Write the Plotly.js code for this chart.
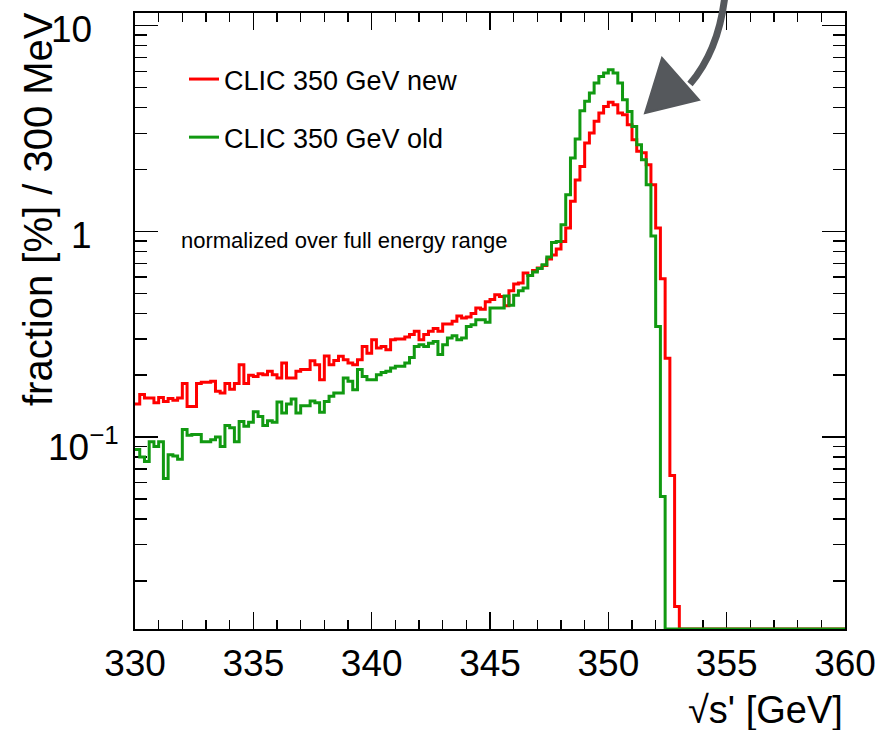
<!DOCTYPE html>
<html>
<head>
<meta charset="utf-8">
<script src="https://cdn.plot.ly/plotly-3.0.1.min.js"></script>
<style>html,body{margin:0;padding:0;background:#fff;}</style>
</head>
<body>
<div id="chart" style="width:880px;height:730px;"></div>
<script>
// Histogram definition
const binStart = 330;
const binWidth = 0.2;
const seriesNames = ["CLIC 350 GeV new", "CLIC 350 GeV old"];
const seriesColors = ["#ff0000", "#119911"];

// fraction [%] per bin, CLIC 350 GeV new
const fracNew = [
 0.145,0.161,0.155,0.155,0.147,0.156,0.149,0.154,0.151,0.155,
 0.182,0.141,0.141,0.182,0.185,0.185,0.187,0.167,0.164,0.182,
 0.171,0.182,0.225,0.182,0.200,0.197,0.203,0.201,0.209,0.201,
 0.194,0.229,0.194,0.194,0.209,0.213,0.213,0.235,0.225,0.190,
 0.248,0.225,0.236,0.247,0.238,0.229,0.225,0.238,0.276,0.256,
 0.297,0.271,0.276,0.266,0.297,0.300,0.300,0.307,0.315,0.327,
 0.297,0.315,0.327,0.337,0.327,0.355,0.355,0.366,0.388,0.379,
 0.384,0.399,0.424,0.418,0.455,0.466,0.492,0.483,0.435,0.515,
 0.555,0.561,0.627,0.610,0.645,0.664,0.683,0.735,0.768,0.822,
 0.894,1.038,1.40,1.78,2.07,2.69,3.01,3.43,3.76,4.05,
 4.24,4.13,3.76,3.69,3.30,2.79,2.45,2.41,2.11,1.687,
 1.04,0.589,0.242,0.065,0.015,0,0,0,0,0,
 0,0,0,0,0,0,0,0,0,0,
 0,0,0,0,0,0,0,0,0,0,
 0,0,0,0,0,0,0,0,0,0
];

// fraction [%] per bin, CLIC 350 GeV old
const fracOld = [
 0.087,0.080,0.076,0.095,0.090,0.095,0.063,0.082,0.081,0.078,
 0.109,0.102,0.103,0.103,0.095,0.095,0.097,0.100,0.090,0.114,
 0.111,0.095,0.119,0.113,0.118,0.133,0.126,0.114,0.120,0.118,
 0.148,0.131,0.145,0.153,0.131,0.142,0.142,0.150,0.147,0.132,
 0.149,0.158,0.164,0.164,0.194,0.187,0.170,0.213,0.197,0.190,
 0.190,0.201,0.206,0.209,0.217,0.221,0.221,0.229,0.244,0.276,
 0.281,0.276,0.286,0.292,0.252,0.281,0.303,0.311,0.297,0.303,
 0.345,0.352,0.372,0.372,0.362,0.424,0.424,0.424,0.485,0.437,
 0.490,0.515,0.531,0.610,0.635,0.660,0.689,0.751,0.884,0.894,
 1.078,1.508,2.274,2.812,3.86,4.29,4.71,5.27,5.67,5.89,
 6.11,5.89,5.27,4.37,3.83,3.24,2.64,2.23,1.687,0.95,
 0.345,0.0515,0,0,0,0,0,0,0,0,
 0,0,0,0,0,0,0,0,0,0,
 0,0,0,0,0,0,0,0,0,0,
 0,0,0,0,0,0,0,0,0,0
];

const xTickVals = [330,335,340,345,350,355,360];
const yTickVals = [0.1, 1, 10];
const yTickText = ["10<sup>\u22121</sup>", "1", "10"];
const yMinorVals = [0.02,0.03,0.04,0.05,0.06,0.07,0.08,0.09,0.2,0.3,0.4,0.5,0.6,0.7,0.8,0.9,2,3,4,5,6,7,8,9];
const yAxisMin = 0.01167, yAxisMax = 11.53;

function histTrace(vals, name, color, group) {
  const x = [], y = [];
  for (let i = 0; i < vals.length; i++) {
    x.push(binStart + i * binWidth);
    y.push(vals[i] > 0 ? vals[i] : yAxisMin);
  }
  x.push(binStart + vals.length * binWidth);
  y.push(y[y.length - 1]);
  return {x: x, y: y, type: "scatter", mode: "lines", name: name,
    legendgroup: group, line: {shape: "hv", color: color, width: 3}};
}

const traces = [
  histTrace(fracNew, seriesNames[0], seriesColors[0], "g1"),
  histTrace(fracOld, seriesNames[1], seriesColors[1], "g2")
];

const F = "Liberation Sans, Arial, Helvetica, sans-serif";
const px = v => (v - 135) / 710;
const py = v => (629 - v) / 616;

// y tick labels, ROOT style: base aligned, exponent hanging to the right
const yLabelAnn = yTickVals.map((v, i) => ({
  text: yTickText[i], xref: "paper", yref: "y",
  x: v < 1 ? px(121) : px(94), y: Math.log10(v),
  xanchor: "right", yanchor: "middle", yshift: v < 1 ? -7 : -4,
  showarrow: false, font: {size: 37, family: F, color: "#000"}
}));

const layout = {
  width: 880, height: 730,
  margin: {l: 135, r: 35, t: 13, b: 101},
  paper_bgcolor: "#fff", plot_bgcolor: "#fff",
  font: {family: F, color: "#000"},
  showlegend: true,
  legend: {x: px(184), y: py(55), xanchor: "left", yanchor: "top",
    bgcolor: "rgba(0,0,0,0)", font: {size: 27, family: F, color: "#000"},
    tracegroupgap: 20},
  xaxis: {
    range: [330, 360], tickvals: xTickVals, ticks: "inside", ticklen: 17, tickwidth: 1.5,
    tickcolor: "#000", showline: true, linewidth: 2, linecolor: "#000", mirror: "allticks",
    showgrid: false, zeroline: false, layer: "below traces",
    tickfont: {size: 37, family: F, color: "#000"}, ticklabelstandoff: 1,
    minor: {dtick: 1, ticks: "inside", ticklen: 9, tickwidth: 1.5, tickcolor: "#000", showgrid: false}
  },
  yaxis: {
    type: "log", range: [Math.log10(yAxisMin), Math.log10(yAxisMax)],
    tickvals: yTickVals, showticklabels: false, ticks: "inside", ticklen: 23, tickwidth: 1.5,
    tickcolor: "#000", showline: true, linewidth: 2, linecolor: "#000", mirror: "allticks",
    showgrid: false, zeroline: false, layer: "below traces",
    minor: {tickvals: yMinorVals, ticks: "inside", ticklen: 12, tickwidth: 1.5, tickcolor: "#000", showgrid: false}
  },
  annotations: [
    {text: "fraction [%] / 300 MeV", textangle: -90, xref: "paper", yref: "paper",
     x: px(38), y: py(209), xanchor: "center", yanchor: "middle", showarrow: false,
     font: {size: 40, family: F, color: "#000"}},
    {text: "\u221As' [GeV]", xref: "paper", yref: "paper", x: 1, y: py(710),
     xanchor: "right", yanchor: "middle", showarrow: false,
     font: {size: 38, family: F, color: "#000"}},
    {text: "normalized over full energy range", xref: "paper", yref: "paper",
     x: px(179), y: py(241), xanchor: "left", yanchor: "middle", showarrow: false,
     font: {size: 22, family: F, color: "#000"}}
  ].concat(yLabelAnn),
  shapes: [
    {type: "path", xref: "paper", yref: "paper",
     path: "M " + px(725) + "," + py(-5) + " Q " + px(719) + "," + py(50) + " " + px(690) + "," + py(84),
     line: {color: "#55585c", width: 7}},
    {type: "path", xref: "paper", yref: "paper",
     path: "M " + px(662) + "," + py(58) + " L " + px(699) + "," + py(100) + " L " + px(645) + "," + py(113) + " Z",
     fillcolor: "#55585c", line: {color: "#55585c", width: 2}}
  ]
};

Plotly.newPlot("chart", traces, layout, {displayModeBar: false, staticPlot: true});
</script>
</body>
</html>
